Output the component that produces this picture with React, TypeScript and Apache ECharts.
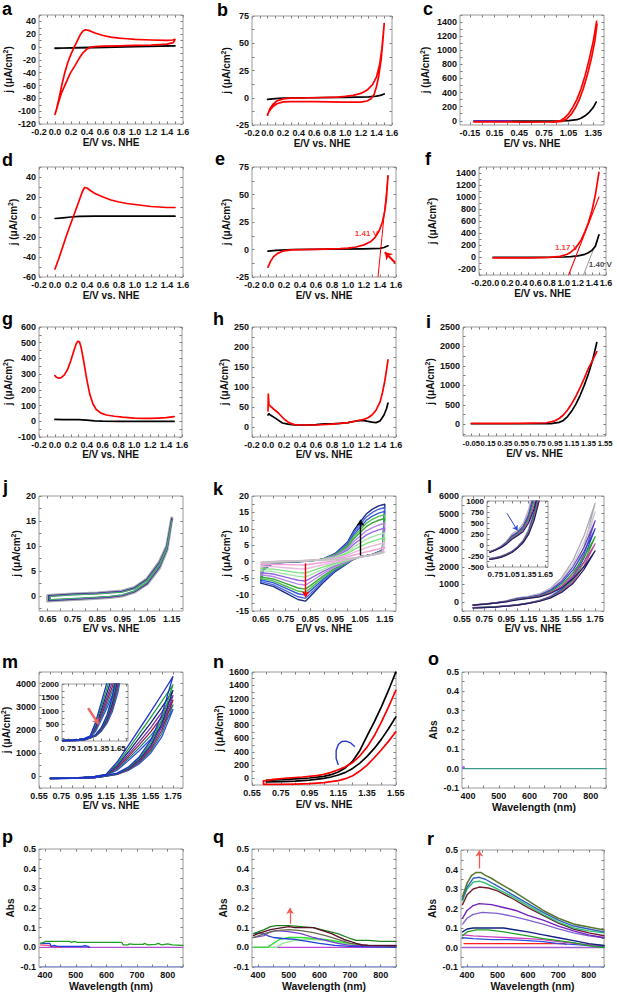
import React, { useEffect, useRef } from 'react';
import * as echarts from 'echarts';

const FONT = '"Liberation Sans", Arial, Helvetica, sans-serif';
const RED = '#ff0000';
const BLK = '#000000';
const EV = 'E/V vs. NHE';
const JN = 'j (μA/cm{s|2})';
const WL = 'Wavelength (nm)';

// ---------- tick label values ----------
const evTicks = [-0.2, 0, 0.2, 0.4, 0.6, 0.8, 1.0, 1.2, 1.4, 1.6];
const aYTicks = [-120, -100, -80, -60, -40, -20, 0, 20, 40];
const beYTicks = [-25, 0, 25, 50, 75];
const cXTicks = [-0.15, 0.15, 0.45, 0.75, 1.05, 1.35];
const cYTicks = [0, 200, 400, 600, 800, 1000, 1200, 1400];
const dYTicks = [-60, -40, -20, 0, 20, 40];
const fYTicks = [-200, 0, 200, 400, 600, 800, 1000, 1200, 1400];
const gYTicks = [-100, 0, 100, 200, 300, 400, 500, 600];
const hYTicks = [0, 50, 100, 150, 200, 250];
const iXTicks = [-0.05, 0.15, 0.35, 0.55, 0.75, 0.95, 1.15, 1.35, 1.55];
const iYTicks = [0, 500, 1000, 1500, 2000, 2500];
const jkXTicks = [0.65, 0.75, 0.85, 0.95, 1.05, 1.15];
const jYTicks = [0, 5, 10, 15, 20];
const kYTicks = [-15, -10, -5, 0, 5, 10, 15, 20];
const lmXTicks = [0.55, 0.75, 0.95, 1.15, 1.35, 1.55, 1.75];
const lYTicks = [0, 1000, 2000, 3000, 4000, 5000, 6000];
const insetXTicks = [0.75, 1.05, 1.35, 1.65];
const lInsetYTicks = [-500, -250, 0, 250, 500, 750, 1000];
const mYTicks = [0, 1000, 2000, 3000, 4000];
const mInsetYTicks = [0, 500, 1000, 1500, 2000];
const nXTicks = [0.55, 0.75, 0.95, 1.15, 1.35, 1.55];
const nYTicks = [0, 200, 400, 600, 800, 1000, 1200, 1400, 1600];
const wlTicks = [400, 500, 600, 700, 800];
const absTicks = [-0.1, 0, 0.1, 0.2, 0.3, 0.4, 0.5];

// ---------- data ----------
const aBlack = [[0, -2], [0.3, -1], [0.6, 0], [1.0, 1], [1.5, 2], [1.0, 0.5], [0.5, -0.8], [0, -1.6]];
const aRed = [[0, -105], [0.02, -96], [0.05, -80], [0.08, -62], [0.12, -41], [0.16, -24], [0.2, -11], [0.24, 0], [0.28, 10], [0.32, 20], [0.35, 25], [0.38, 27], [0.42, 26], [0.5, 22], [0.6, 18], [0.7, 15.5], [0.8, 14], [0.9, 13], [1.0, 12], [1.2, 11], [1.4, 10.5], [1.47, 11], [1.5, 12], [1.48, 7], [1.4, 4.5], [1.2, 3], [1.0, 2.5], [0.8, 2], [0.6, 1.5], [0.5, 0.8], [0.45, 0], [0.4, -3], [0.35, -9], [0.3, -18], [0.25, -29], [0.19, -41], [0.14, -55], [0.08, -72], [0.04, -88], [0.02, -97], [0, -105]];

const bBlack = [[0, -1.5], [0.1, -0.8], [0.2, -0.3], [0.5, 0], [1.0, 0.3], [1.3, 0.8], [1.4, 1.5], [1.45, 2.2], [1.5, 3.5]];
const bRed = [[0, -16], [0.03, -10], [0.07, -6], [0.12, -3], [0.2, -1], [0.3, -0.3], [0.6, 0], [0.9, 0.6], [1.0, 1.2], [1.1, 2.2], [1.2, 4], [1.28, 7], [1.35, 12], [1.4, 19], [1.44, 30], [1.47, 45], [1.5, 68], [1.48, 50], [1.46, 35], [1.43, 20], [1.4, 10], [1.37, 3], [1.33, -1], [1.28, -3], [1.2, -4], [1.0, -4], [0.6, -3.5], [0.3, -3.5], [0.2, -3.8], [0.12, -5.5], [0.07, -8], [0.03, -11.5], [0, -15]];

const cBlack = [[-0.1, -5], [0.6, -5], [0.95, -3], [1.05, 2], [1.15, 15], [1.2, 35], [1.25, 70], [1.3, 120], [1.35, 190], [1.385, 265]];
const cRed1 = [[-0.1, -15], [0.5, -18], [0.85, -15], [0.95, 0], [1.0, 40], [1.05, 100], [1.1, 190], [1.15, 300], [1.2, 450], [1.25, 640], [1.3, 870], [1.35, 1130], [1.39, 1410]];
const cRed2 = [[0.85, -18], [0.97, -8], [1.03, 30], [1.08, 90], [1.13, 180], [1.18, 300], [1.23, 460], [1.28, 660], [1.33, 900], [1.37, 1140], [1.395, 1370]];
const cPurple = [[-0.1, -3], [0.35, -3]];

const dBlack = [[0, -1.5], [0.1, -0.8], [0.2, 0], [0.3, 0.6], [0.5, 0.8], [1.0, 0.8], [1.5, 0.8]];
const dRed = [[0, -52], [0.05, -41], [0.1, -29], [0.15, -17], [0.2, -6], [0.25, 5], [0.3, 16], [0.34, 25], [0.37, 29.5], [0.4, 29], [0.45, 26], [0.5, 23.5], [0.6, 20], [0.7, 17], [0.8, 15], [0.9, 13.5], [1.0, 12.5], [1.1, 11.5], [1.2, 10.5], [1.3, 10], [1.4, 9.5], [1.5, 9.5]];

const eBlack = [[0, -1.5], [0.1, -0.8], [0.3, 0], [0.8, 0.3], [1.2, 0.6], [1.4, 1], [1.45, 1.8], [1.5, 3.5]];
const eRed = [[0, -16], [0.03, -11], [0.07, -6.5], [0.12, -3.5], [0.2, -1.2], [0.3, -0.3], [0.6, 0.2], [0.9, 0.8], [1.0, 1.3], [1.1, 2.3], [1.2, 4.2], [1.28, 7], [1.34, 11], [1.39, 17], [1.43, 25], [1.46, 35], [1.48, 46], [1.5, 67]];
const eTangent = [[1.375, -25], [1.5, 67]];

const fBlack = [[0, -5], [0.6, -5], [1.0, 0], [1.1, 5], [1.2, 20], [1.3, 45], [1.35, 70], [1.4, 110], [1.45, 180], [1.5, 370]];
const fRed = [[0, -15], [0.5, -15], [0.8, -5], [0.95, 10], [1.05, 45], [1.1, 80], [1.15, 130], [1.2, 200], [1.25, 290], [1.3, 420], [1.35, 570], [1.4, 770], [1.45, 1040], [1.5, 1410]];
const fRedTangent = [[1.07, -300], [1.5, 1000]];
const fGrayTangent = [[1.28, -300], [1.5, 360]];

const gBlack = [[0, 12], [0.1, 11], [0.3, 10], [0.4, 7], [0.5, 3], [0.6, 1], [0.8, 0], [1.5, 0]];
const gRed = [[0, 290], [0.02, 280], [0.05, 274], [0.08, 278], [0.12, 295], [0.16, 330], [0.2, 385], [0.24, 450], [0.27, 495], [0.29, 510], [0.31, 505], [0.33, 470], [0.36, 390], [0.4, 270], [0.44, 170], [0.48, 110], [0.52, 75], [0.58, 52], [0.65, 40], [0.75, 32], [0.85, 26], [1.0, 20], [1.1, 18], [1.2, 18], [1.3, 20], [1.4, 23], [1.5, 30]];

const hBlack = [[0, 30], [0.01, 33], [0.03, 30], [0.1, 21], [0.18, 10], [0.25, 7], [0.33, 5], [0.5, 5], [0.6, 6], [0.7, 8], [0.8, 8], [0.9, 9], [1.0, 11], [1.1, 15], [1.15, 16], [1.2, 16], [1.25, 14], [1.3, 12], [1.35, 11], [1.4, 15], [1.45, 30], [1.48, 45], [1.5, 60]];
const hRed = [[0, 40], [0.004, 82], [0.012, 55], [0.03, 52], [0.07, 45], [0.13, 35], [0.2, 20], [0.26, 11], [0.33, 6], [0.4, 5], [0.6, 5], [0.8, 7], [1.0, 11], [1.1, 15], [1.2, 19], [1.25, 23], [1.3, 30], [1.35, 42], [1.4, 62], [1.43, 85], [1.46, 115], [1.48, 140], [1.5, 168]];

const iBlack = [[-0.05, 15], [0.5, 15], [0.9, 20], [1.0, 50], [1.05, 100], [1.1, 200], [1.15, 340], [1.2, 520], [1.25, 740], [1.3, 1000], [1.35, 1300], [1.4, 1650], [1.45, 2100]];
const iRed = [[-0.05, 25], [0.5, 25], [0.85, 40], [0.95, 90], [1.0, 150], [1.05, 240], [1.1, 370], [1.15, 530], [1.2, 720], [1.25, 940], [1.3, 1180], [1.35, 1440], [1.4, 1650], [1.45, 1870]];

const jGray = [[0.65, -1.0], [0.7, -0.85], [0.8, -0.6], [0.9, -0.3], [0.95, 0], [1.0, 0.8], [1.05, 2.4], [1.1, 5.6], [1.13, 9.2], [1.15, 15.6], [1.13, 10], [1.1, 6.8], [1.05, 3.4], [1.0, 1.7], [0.95, 1.0], [0.85, 0.6], [0.75, 0.4], [0.65, 0.1], [0.65, -1.0]];
const jNavy = [[0.655, -0.9], [0.8, -0.5], [0.9, -0.2], [0.95, 0.1], [1.0, 0.9], [1.05, 2.5], [1.1, 5.8], [1.13, 9.4], [1.15, 15.4], [1.13, 9.9], [1.1, 6.6], [1.05, 3.3], [1.0, 1.6], [0.95, 0.9], [0.85, 0.55], [0.75, 0.35], [0.655, 0.05], [0.655, -0.9]];
const jPurple = [[0.66, -0.8], [0.7, -0.7], [0.8, -0.45], [0.9, -0.15], [0.95, 0.15], [1.0, 0.95], [1.05, 2.6], [1.1, 5.9], [1.13, 9.5], [1.15, 15.2], [1.13, 9.8], [1.1, 6.5], [1.05, 3.2], [1.0, 1.5], [0.95, 0.85], [0.85, 0.5], [0.75, 0.3], [0.66, 0.0], [0.66, -0.8]];
const jGreen = [[0.66, -0.7], [0.8, -0.35], [0.9, -0.05], [0.95, 0.25], [1.0, 1.05], [1.05, 2.75], [1.1, 6.1], [1.13, 9.6], [1.15, 15], [1.13, 9.7], [1.1, 6.3], [1.05, 3.1], [1.0, 1.4], [0.95, 0.75], [0.85, 0.4], [0.75, 0.2], [0.66, -0.1], [0.66, -0.7]];

const kFwdX = [0.65, 0.66, 0.7, 0.75, 0.8, 0.85, 0.9, 0.95, 1.0, 1.025, 1.05, 1.075, 1.1, 1.125, 1.15];
const kRevX = [1.15, 1.14, 1.1, 1.05, 1.02, 1.0, 0.95, 0.9, 0.85, 0.83, 0.8, 0.75, 0.7, 0.65];
const k00Fwd = [-0.2, 0, 0.1, 0.2, 0.3, 0.45, 0.6, 0.8, 1.0, 1.2, 1.4, 1.7, 2.0, 2.4, 3.0];
const k00Rev = [3.0, 2.6, 2.0, 1.4, 1.0, 0.9, 0.6, 0.45, 0.3, 0.25, 0.2, 0.1, 0.0, -0.2];
const k10Fwd = [-0.83, -0.25, 0.04, 0.16, 0.27, 0.43, 0.62, 0.97, 1.5, 2.03, 2.46, 2.98, 3.4, 3.86, 4.45];
const k10Rev = [4.45, 2.69, 2.02, 1.41, 0.96, 0.76, 0.24, -0.25, -0.78, -0.98, -0.97, -0.86, -0.75, -0.83];
const k20Fwd = [-1.46, -0.5, -0.02, 0.12, 0.24, 0.4, 0.64, 1.14, 2.0, 2.86, 3.52, 4.26, 4.8, 5.32, 5.9];
const k20Rev = [5.9, 2.78, 2.04, 1.42, 0.92, 0.62, -0.12, -0.94, -1.86, -2.2, -2.14, -1.82, -1.5, -1.46];
const k30Fwd = [-2.09, -0.75, -0.08, 0.08, 0.21, 0.38, 0.66, 1.31, 2.5, 3.69, 4.58, 5.54, 6.2, 6.78, 7.35];
const k30Rev = [7.35, 2.87, 2.06, 1.43, 0.88, 0.48, -0.48, -1.64, -2.94, -3.43, -3.31, -2.78, -2.25, -2.09];
const k40Fwd = [-2.72, -1.0, -0.14, 0.04, 0.18, 0.35, 0.68, 1.48, 3.0, 4.52, 5.64, 6.82, 7.6, 8.24, 8.8];
const k40Rev = [8.8, 2.96, 2.08, 1.44, 0.84, 0.34, -0.84, -2.33, -4.02, -4.65, -4.48, -3.74, -3.0, -2.72];
const k50Fwd = [-3.35, -1.25, -0.2, 0.0, 0.15, 0.33, 0.7, 1.65, 3.5, 5.35, 6.7, 8.1, 9.0, 9.7, 10.25];
const k50Rev = [10.25, 3.05, 2.1, 1.45, 0.8, 0.2, -1.2, -3.03, -5.1, -5.88, -5.65, -4.7, -3.75, -3.35];
const k60Fwd = [-3.98, -1.5, -0.26, -0.04, 0.12, 0.3, 0.72, 1.82, 4.0, 6.18, 7.76, 9.38, 10.4, 11.16, 11.7];
const k60Rev = [11.7, 3.14, 2.12, 1.46, 0.76, 0.06, -1.56, -3.72, -6.18, -7.1, -6.82, -5.66, -4.5, -3.98];
const k70Fwd = [-4.61, -1.75, -0.32, -0.08, 0.09, 0.28, 0.74, 1.99, 4.5, 7.01, 8.82, 10.66, 11.8, 12.62, 13.15];
const k70Rev = [13.15, 3.23, 2.14, 1.47, 0.72, -0.08, -1.92, -4.42, -7.26, -8.33, -7.99, -6.62, -5.25, -4.61];
const k78Fwd = [-5.11, -1.95, -0.37, -0.11, 0.07, 0.26, 0.76, 2.13, 4.9, 7.67, 9.67, 11.68, 12.92, 13.79, 14.31];
const k78Rev = [14.31, 3.3, 2.16, 1.48, 0.69, -0.19, -2.21, -4.97, -8.12, -9.3, -8.93, -7.39, -5.85, -5.11];
const k85Fwd = [-5.56, -2.13, -0.41, -0.14, 0.05, 0.24, 0.77, 2.25, 5.25, 8.26, 10.41, 12.58, 13.9, 14.81, 15.33];
const k85Rev = [15.33, 3.37, 2.17, 1.49, 0.66, -0.29, -2.46, -5.46, -8.88, -10.16, -9.75, -8.06, -6.38, -5.56];
const k93Fwd = [-6.06, -2.33, -0.46, -0.17, 0.02, 0.22, 0.79, 2.38, 5.65, 8.92, 11.26, 13.6, 15.02, 15.98, 16.49];
const k93Rev = [16.49, 3.44, 2.19, 1.49, 0.63, -0.4, -2.75, -6.02, -9.74, -11.14, -10.68, -8.83, -6.98, -6.06];
const k100Fwd = [-6.5, -2.5, -0.5, -0.2, 0.0, 0.2, 0.8, 2.5, 6.0, 9.5, 12.0, 14.5, 16.0, 17.0, 17.5];
const k100Rev = [17.5, 3.5, 2.2, 1.5, 0.6, -0.5, -3.0, -6.5, -10.5, -12.0, -11.5, -9.5, -7.5, -6.5];

const lmFwdX = [0.65, 0.75, 0.85, 0.95, 1.05, 1.15, 1.25, 1.35, 1.45, 1.55, 1.65, 1.75];
const lmRevX = [1.75, 1.65, 1.55, 1.45, 1.35, 1.25, 1.15, 1.05, 0.95, 0.85, 0.75, 0.65];
const l1Fwd = [-150, -100, -30, 80, 250, 330, 480, 800, 1400, 2350, 3750, 5600];
const l1Rev = [5600, 3150, 1650, 820, 360, 110, -40, -140, -200, -250, -280, -300];
const l2Fwd = [-150, -100, -35, 70, 230, 310, 450, 750, 1300, 2150, 3400, 5100];
const l2Rev = [5100, 2900, 1550, 780, 340, 100, -45, -145, -205, -255, -285, -305];
const l3Fwd = [-155, -105, -40, 60, 210, 290, 420, 700, 1200, 2000, 3100, 4600];
const l3Rev = [4600, 2700, 1450, 740, 320, 90, -50, -150, -210, -260, -290, -310];
const l4Fwd = [-160, -110, -45, 50, 190, 270, 390, 650, 1100, 1820, 2850, 4150];
const l4Rev = [4150, 2500, 1350, 700, 300, 80, -55, -155, -215, -265, -295, -315];
const l5Fwd = [-160, -110, -50, 40, 170, 250, 360, 600, 1000, 1650, 2550, 3700];
const l5Rev = [3700, 2250, 1250, 650, 280, 70, -60, -160, -220, -270, -300, -320];
const l6Fwd = [-165, -115, -55, 30, 150, 230, 330, 550, 900, 1480, 2280, 3300];
const l6Rev = [3300, 2050, 1150, 600, 260, 60, -65, -165, -225, -275, -305, -325];
const l7Fwd = [-170, -120, -60, 20, 130, 210, 300, 500, 820, 1320, 2000, 2900];
const l7Rev = [2900, 1850, 1050, 560, 240, 50, -70, -170, -230, -280, -310, -330];

const m1Fwd = [-80, -70, -60, -40, 0, 90, 620, 1330, 2050, 2780, 3530, 4300];
const m1Rev = [4300, 2650, 1550, 850, 400, 140, 30, -40, -70, -80, -85, -90];
const m2Fwd = [-80, -70, -60, -40, -5, 75, 540, 1180, 1850, 2530, 3230, 3950];
const m2Rev = [3950, 2450, 1430, 790, 370, 130, 26, -45, -70, -80, -85, -90];
const m3Fwd = [-80, -70, -60, -42, -10, 65, 470, 1050, 1670, 2300, 2980, 3700];
const m3Rev = [3700, 2280, 1330, 740, 345, 120, 22, -48, -72, -82, -87, -92];
const m4Fwd = [-82, -72, -62, -44, -14, 55, 410, 940, 1500, 2090, 2760, 3480];
const m4Rev = [3480, 2130, 1250, 690, 320, 110, 18, -50, -74, -84, -88, -93];
const m5Fwd = [-82, -72, -62, -45, -18, 48, 360, 850, 1370, 1920, 2560, 3280];
const m5Rev = [3280, 1990, 1160, 640, 300, 100, 15, -52, -75, -85, -89, -94];
const m6Fwd = [-84, -74, -64, -46, -22, 40, 310, 760, 1240, 1760, 2360, 3080];
const m6Rev = [3080, 1850, 1080, 600, 280, 92, 12, -54, -76, -86, -90, -95];
const m7Fwd = [-85, -75, -65, -48, -25, 32, 270, 680, 1120, 1600, 2160, 2880];
const m7Rev = [2880, 1700, 1000, 550, 260, 85, 10, -56, -78, -87, -91, -96];

const nBlackUp = [[0.65, -30], [0.75, -18], [0.85, -8], [0.95, 5], [1.05, 30], [1.1, 55], [1.15, 95], [1.2, 160], [1.25, 260], [1.3, 420], [1.35, 640], [1.4, 850], [1.45, 1080], [1.5, 1330], [1.55, 1600]];
const nBlackLow = [[0.65, -30], [0.65, -55], [0.75, -50], [0.85, -42], [0.95, -28], [1.05, 0], [1.1, 20], [1.15, 50], [1.2, 90], [1.25, 150], [1.3, 230], [1.35, 330], [1.4, 450], [1.45, 590], [1.5, 750], [1.55, 925]];
const nRedUp = [[0.63, -40], [0.7, -15], [0.8, 5], [0.9, 20], [1.0, 40], [1.05, 60], [1.1, 90], [1.15, 130], [1.2, 175], [1.25, 240], [1.3, 340], [1.35, 470], [1.4, 640], [1.45, 850], [1.5, 1080], [1.55, 1325]];
const nRedLow = [[0.63, -40], [0.63, -90], [0.75, -92], [0.85, -88], [0.95, -80], [1.05, -65], [1.15, -35], [1.2, -5], [1.25, 40], [1.3, 110], [1.35, 200], [1.4, 310], [1.45, 430], [1.5, 560], [1.55, 700]];
const nHook = [[1.15, 200], [1.135, 300], [1.135, 420], [1.15, 510], [1.175, 555], [1.205, 560], [1.235, 535], [1.265, 475]];

const oTeal = [[385, 0], [850, 0]];
const oDot = [[385, 0.006]];

const pGreen = [[385, 0.02], [395, 0.025], [400, 0.03], [480, 0.03], [485, 0.025], [495, 0.03], [505, 0.025], [650, 0.025], [655, 0.012], [670, 0.012], [675, 0.018], [690, 0.015], [720, 0.015], [725, 0.02], [735, 0.012], [760, 0.015], [770, 0.02], [780, 0.012], [800, 0.018], [815, 0.012], [850, 0.01]];
const pBlue = [[385, 0.02], [415, 0.02], [420, 0.005], [430, 0.01], [440, 0.005], [520, 0.005], [530, 0.008], [540, 0.005], [545, 0.0]];
const pPurple = [[385, 0], [850, 0]];
const pPink = [[385, 0.012], [410, 0.01], [420, 0.005], [450, 0.003]];
const uvBase = [[385, -0.1], [850, -0.1]];

const qMaroon = [[385, 0.06], [400, 0.07], [420, 0.08], [440, 0.09], [460, 0.095], [480, 0.1], [500, 0.105], [520, 0.1], [560, 0.1], [580, 0.1], [600, 0.09], [620, 0.08], [640, 0.07], [660, 0.055], [680, 0.04], [700, 0.03], [720, 0.02], [740, 0.012], [760, 0.01], [850, 0.008]];
const qGreen = [[385, 0.07], [420, 0.09], [440, 0.105], [460, 0.11], [500, 0.11], [540, 0.105], [580, 0.1], [620, 0.085], [660, 0.07], [700, 0.045], [720, 0.035], [760, 0.035], [800, 0.03], [850, 0.03]];
const qOlive = [[385, 0.05], [420, 0.07], [460, 0.085], [500, 0.09], [540, 0.085], [580, 0.075], [620, 0.06], [660, 0.04], [700, 0.02], [760, 0.01], [850, 0.01]];
const qBlue = [[385, 0.07], [410, 0.075], [430, 0.06], [450, 0.05], [480, 0.045], [520, 0.04], [560, 0.03], [600, 0.02], [650, 0.01], [700, 0.005], [850, 0.0]];
const qPurple = [[385, 0.05], [420, 0.06], [440, 0.08], [460, 0.085], [500, 0.08], [540, 0.07], [580, 0.05], [620, 0.035], [660, 0.02], [700, 0.01], [850, 0.005]];
const qLime = [[385, 0], [430, 0], [450, 0.02], [470, 0.04], [500, 0.05], [540, 0.05], [580, 0.045], [620, 0.04], [660, 0.03], [700, 0.02], [740, 0.01], [850, 0.005]];
const qPale = [[385, 0], [460, 0], [480, 0.02], [520, 0.035], [560, 0.04], [620, 0.035], [680, 0.02], [720, 0.01], [850, 0.0]];
const qMagenta = [[385, 0], [850, 0]];

const rOlive = [[385, 0.26], [400, 0.33], [415, 0.37], [430, 0.385], [445, 0.385], [460, 0.37], [480, 0.355], [500, 0.335], [550, 0.29], [600, 0.24], [650, 0.19], [700, 0.15], [750, 0.12], [800, 0.105], [850, 0.09]];
const rSteel = [[385, 0.25], [400, 0.31], [420, 0.355], [440, 0.36], [460, 0.35], [500, 0.315], [550, 0.27], [600, 0.225], [650, 0.18], [700, 0.14], [750, 0.11], [800, 0.095], [850, 0.08]];
const rTeal = [[385, 0.24], [400, 0.3], [420, 0.335], [440, 0.34], [460, 0.33], [500, 0.3], [550, 0.26], [600, 0.215], [650, 0.17], [700, 0.13], [750, 0.1], [800, 0.085], [850, 0.075]];
const rMaroon = [[385, 0.22], [400, 0.27], [420, 0.3], [440, 0.31], [470, 0.305], [500, 0.29], [550, 0.25], [600, 0.205], [650, 0.165], [700, 0.125], [750, 0.095], [800, 0.075], [850, 0.06]];
const rPurple = [[385, 0.15], [400, 0.19], [420, 0.215], [440, 0.225], [480, 0.22], [520, 0.205], [560, 0.19], [600, 0.165], [650, 0.14], [700, 0.11], [750, 0.085], [800, 0.065], [850, 0.05]];
const rViolet = [[385, 0.12], [400, 0.15], [420, 0.17], [450, 0.18], [500, 0.175], [550, 0.16], [600, 0.14], [650, 0.12], [700, 0.095], [750, 0.075], [800, 0.06], [850, 0.05]];
const rNavy = [[385, 0.08], [400, 0.095], [420, 0.1], [460, 0.1], [520, 0.1], [560, 0.09], [600, 0.08], [650, 0.065], [700, 0.05], [750, 0.035], [800, 0.02], [850, 0.01]];
const rGreen = [[385, 0.06], [400, 0.08], [430, 0.09], [470, 0.09], [520, 0.08], [560, 0.07], [600, 0.06], [650, 0.045], [700, 0.035], [750, 0.025], [800, 0.01], [850, 0.0]];
const rBlue = [[385, 0.05], [420, 0.045], [480, 0.04], [540, 0.04], [600, 0.035], [650, 0.03], [700, 0.02], [760, 0.015], [800, 0.01], [850, 0.005]];
const rMagenta = [[385, 0.065], [420, 0.06], [480, 0.055], [540, 0.05], [600, 0.045], [650, 0.04], [700, 0.03], [760, 0.02], [800, 0.015], [850, 0.01]];
const rRed = [[390, 0.02], [450, 0.02], [550, 0.02], [650, 0.02], [720, 0.02], [725, 0.015]];
const rLav = [[385, 0], [850, 0]];

// ---------- helpers ----------
const zip = (xs: number[], ys: number[]) => xs.map((x, i) => [x, ys[i]]);
const loop = (fx: number[], fy: number[], rx: number[], ry: number[]) => [...zip(fx, fy), ...zip(rx, ry)];

type AxisSpec = { min: number; max: number; ticks: number[]; dec: number; size?: number };
type LineSpec = { data: number[][]; color: string; width?: number; dash?: string };
type ArrowSpec = { coords: number[][]; color: string; width?: number; size?: number };
type NoteSpec = { at: number[]; text: string; color: string };
type PanelSpec = {
  rect: number[];
  x: AxisSpec;
  y: AxisSpec;
  xName?: string;
  yName?: string;
  xGap?: number;
  yGap?: number;
  xNameSize?: number;
  lines: LineSpec[];
  arrows?: ArrowSpec[];
  notes?: NoteSpec[];
  dots?: { data: number[][]; color: string }[];
  inset?: boolean;
  labelSize?: number;
};

function allTicks(a: AxisSpec): number[] {
  const h = (a.ticks[1] - a.ticks[0]) / 2;
  const out: number[] = [];
  let k = Math.ceil((a.min - a.ticks[0]) / h - 1e-6);
  for (let n = 0; n < 200; n++, k++) {
    const v = a.ticks[0] + k * h;
    if (v > a.max + 1e-9) break;
    out.push(+v.toFixed(6));
  }
  return out;
}
// label positions: the tick values, bracketed by blank labels at the axis ends
// (so that ECharts' min/max overlap rule never drops a real tick label)
function labelValues(a: AxisSpec): number[] {
  const vals = [...a.ticks];
  if (Math.abs(vals[0] - a.min) > 1e-9) vals.unshift(a.min);
  if (Math.abs(vals[vals.length - 1] - a.max) > 1e-9) vals.push(a.max);
  return vals;
}
const isTick = (a: AxisSpec, v: number) => a.ticks.some((t) => Math.abs(t - v) < 1e-7);

const evX: AxisSpec = { min: -0.2, max: 1.6, ticks: evTicks, dec: 1 };
const wlX: AxisSpec = { min: 380, max: 850, ticks: wlTicks, dec: 0 };
const absY: AxisSpec = { min: -0.1, max: 0.5, ticks: absTicks, dec: 1 };
const jkX: AxisSpec = { min: 0.615, max: 1.195, ticks: jkXTicks, dec: 2 };

const kCycles = [
  { f: k100Fwd, r: k100Rev, c: '#1e2a80' },
  { f: k93Fwd, r: k93Rev, c: '#4a68e0' },
  { f: k85Fwd, r: k85Rev, c: '#3858d8' },
  { f: k78Fwd, r: k78Rev, c: '#50c050' },
  { f: k70Fwd, r: k70Rev, c: '#38a838' },
  { f: k60Fwd, r: k60Rev, c: '#b888e8' },
  { f: k50Fwd, r: k50Rev, c: '#9868e0' },
  { f: k40Fwd, r: k40Rev, c: '#a8e8a8' },
  { f: k30Fwd, r: k30Rev, c: '#80e080' },
  { f: k20Fwd, r: k20Rev, c: '#e8b8e0' },
  { f: k10Fwd, r: k10Rev, c: '#f0a0dc' },
  { f: k00Fwd, r: k00Rev, c: '#c4c4c4' },
];
const lCycles = [
  { f: l1Fwd, r: l1Rev, c: '#a8a8b0' },
  { f: l2Fwd, r: l2Rev, c: '#c8c8d0' },
  { f: l3Fwd, r: l3Rev, c: '#7040c0' },
  { f: l4Fwd, r: l4Rev, c: '#2848c8' },
  { f: l5Fwd, r: l5Rev, c: '#30a030' },
  { f: l6Fwd, r: l6Rev, c: '#c040a0' },
  { f: l7Fwd, r: l7Rev, c: '#202060' },
];
const mCycles = [
  { f: m7Fwd, r: m7Rev, c: '#3050e0' },
  { f: m6Fwd, r: m6Rev, c: '#208080' },
  { f: m5Fwd, r: m5Rev, c: '#902040' },
  { f: m4Fwd, r: m4Rev, c: '#7030b0' },
  { f: m3Fwd, r: m3Rev, c: '#182878' },
  { f: m2Fwd, r: m2Rev, c: '#20a040' },
  { f: m1Fwd, r: m1Rev, c: '#2030d0' },
];
const kLines: LineSpec[] = kCycles.map((k) => ({ data: loop(kFwdX, k.f, kRevX, k.r), color: k.c, width: 1.4 }));
const lLines: LineSpec[] = lCycles.map((k) => ({ data: loop(lmFwdX, k.f, lmRevX, k.r), color: k.c, width: 1.2 }));
const mLines: LineSpec[] = mCycles.map((k) => ({ data: loop(lmFwdX, k.f, lmRevX, k.r), color: k.c, width: 1.3 }));

const panels: PanelSpec[] = [
  // a
  { rect: [39, 15, 183, 124], x: evX, y: { min: -120, max: 50, ticks: aYTicks, dec: 0 }, xName: EV, yName: JN, xGap: 13, yGap: 15,
    lines: [{ data: aBlack, color: BLK }, { data: aRed, color: RED }] },
  // b
  { rect: [252, 16, 392, 125], x: evX, y: { min: -25, max: 75, ticks: beYTicks, dec: 0 }, xName: EV, yName: JN, xGap: 13, yGap: 13,
    lines: [{ data: bBlack, color: BLK }, { data: bRed, color: RED }] },
  // c
  { rect: [460, 15, 604, 125], x: { min: -0.27, max: 1.48, ticks: cXTicks, dec: 2 }, y: { min: -60, max: 1500, ticks: cYTicks, dec: 0 }, xName: EV, yName: JN, xGap: 13, yGap: 29,
    lines: [{ data: cBlack, color: BLK }, { data: cPurple, color: '#6a2ad0' }, { data: cRed2, color: RED }, { data: cRed1, color: RED }] },
  // d
  { rect: [39, 167, 183, 277], x: evX, y: { min: -60, max: 50, ticks: dYTicks, dec: 0 }, xName: EV, yName: JN, xGap: 13, yGap: 15,
    lines: [{ data: dBlack, color: BLK }, { data: dRed, color: RED }] },
  // e
  { rect: [252, 167, 396, 277], x: evX, y: { min: -25, max: 75, ticks: beYTicks, dec: 0 }, xName: EV, yName: JN, xGap: 13, yGap: 13,
    lines: [{ data: eBlack, color: BLK }, { data: eRed, color: RED }, { data: eTangent, color: RED, width: 1 }],
    arrows: [{ coords: [[1.59, -12], [1.46, -2.5]], color: RED, width: 2, size: 7 }],
    notes: [{ at: [1.23, 15], text: '1.41 V', color: RED }] },
  // f
  { rect: [479, 167, 606, 275], x: evX, y: { min: -300, max: 1500, ticks: fYTicks, dec: 0 }, xName: EV, yName: JN, xGap: 13, yGap: 41,
    lines: [{ data: fGrayTangent, color: '#9a9a9a', width: 1 }, { data: fBlack, color: BLK }, { data: fRedTangent, color: RED, width: 1.1 }, { data: fRed, color: RED }],
    notes: [{ at: [1.04, 160], text: '1.17 V', color: RED }, { at: [1.52, -130], text: '1.40 V', color: '#111' }] },
  // g
  { rect: [39, 327, 182, 437], x: evX, y: { min: -100, max: 600, ticks: gYTicks, dec: 0 }, xName: EV, yName: JN, xGap: 11, yGap: 15,
    lines: [{ data: gBlack, color: BLK }, { data: gRed, color: RED }] },
  // h
  { rect: [252, 327, 396, 437], x: evX, y: { min: -25, max: 250, ticks: hYTicks, dec: 0 }, xName: EV, yName: JN, xGap: 11, yGap: 16,
    lines: [{ data: hBlack, color: BLK }, { data: hRed, color: RED }] },
  // i
  { rect: [463, 327, 606, 436], x: { min: -0.15, max: 1.56, ticks: iXTicks, dec: 2, size: 7.7 }, y: { min: -300, max: 2500, ticks: iYTicks, dec: 0 }, xName: EV, yName: JN, xGap: 12, yGap: 24,
    lines: [{ data: iBlack, color: BLK }, { data: iRed, color: RED }] },
  // j
  { rect: [39, 496, 183, 611], x: jkX, y: { min: -3, max: 20, ticks: jYTicks, dec: 0 }, xName: EV, yName: JN, xGap: 12, yGap: 13,
    lines: [{ data: jGray, color: '#a8a8b4', width: 3.2 }, { data: jNavy, color: '#28307a', width: 1.6 }, { data: jPurple, color: '#8050d0', width: 1.2 }, { data: jGreen, color: '#40b060', width: 1.1 }] },
  // k
  { rect: [252, 496, 396, 611], x: jkX, y: { min: -15, max: 20, ticks: kYTicks, dec: 0 }, xName: EV, yName: JN, xGap: 12, yGap: 13,
    lines: kLines,
    arrows: [{ coords: [[0.831, -0.5], [0.831, -10.8]], color: RED, width: 1.4, size: 6 }, { coords: [[1.052, 1.9], [1.052, 12.8]], color: BLK, width: 1.4, size: 6 }] },
  // l
  { rect: [462, 496, 604, 611], x: { min: 0.55, max: 1.83, ticks: lmXTicks, dec: 2 }, y: { min: -500, max: 6000, ticks: lYTicks, dec: 0 }, xName: EV, yName: JN, xGap: 12, yGap: 24,
    lines: lLines },
  // l inset
  { rect: [487, 501, 548, 567], x: { min: 0.6, max: 1.7, ticks: insetXTicks, dec: 2 }, y: { min: -500, max: 1000, ticks: lInsetYTicks, dec: 0 }, inset: true, labelSize: 8,
    lines: lLines, arrows: [{ coords: [[0.96, 720], [1.15, 330]], color: '#2848d0', width: 1, size: 5 }] },
  // m
  { rect: [39, 672, 183, 788], x: { min: 0.55, max: 1.84, ticks: lmXTicks, dec: 2 }, y: { min: -500, max: 4500, ticks: mYTicks, dec: 0 }, xName: EV, yName: JN, xGap: 12, yGap: 23,
    lines: mLines },
  // m inset
  { rect: [62, 684, 128, 741], x: { min: 0.64, max: 1.83, ticks: insetXTicks, dec: 2 }, y: { min: -100, max: 2000, ticks: mInsetYTicks, dec: 0 }, inset: true, labelSize: 8,
    lines: mLines, arrows: [{ coords: [[1.11, 1110], [1.3, 520]], color: '#f06464', width: 2.5, size: 6 }] },
  // n
  { rect: [252, 672, 396, 785], x: { min: 0.55, max: 1.551, ticks: nXTicks, dec: 2 }, y: { min: -100, max: 1600, ticks: nYTicks, dec: 0 }, xName: EV, yName: JN, xGap: 14, yGap: 23,
    lines: [{ data: nBlackLow, color: BLK }, { data: nBlackUp, color: BLK }, { data: nRedLow, color: RED }, { data: nRedUp, color: RED }],
    arrows: [{ coords: nHook, color: '#2838d0', width: 1.4, size: 6 }] },
  // o
  { rect: [462, 672, 606, 788], x: wlX, y: absY, xName: WL, yName: 'Abs', xGap: 13, yGap: 18, xNameSize: 10.5,
    lines: [{ data: oTeal, color: '#3a9a88', width: 1.3 }], dots: [{ data: oDot, color: '#9040ff' }] },
  // p
  { rect: [39, 849, 183, 967], x: wlX, y: absY, xName: WL, yName: 'Abs', xGap: 13, yGap: 20, xNameSize: 10.5,
    lines: [{ data: uvBase, color: '#5a70e8', width: 1.2 }, { data: pPurple, color: '#b050d0', width: 1.3 }, { data: pPink, color: '#ff4080', width: 1.3 }, { data: pBlue, color: '#2040e0', width: 1.3 }, { data: pGreen, color: '#20a020', width: 1.3 }] },
  // q
  { rect: [252, 849, 396, 967], x: wlX, y: absY, xName: WL, yName: 'Abs', xGap: 13, yGap: 14, xNameSize: 10.5,
    lines: [{ data: uvBase, color: '#5a70e8', width: 1.2 }, { data: qMagenta, color: '#c040e0', width: 1.3 }, { data: qPale, color: '#90e890', width: 1.3 }, { data: qLime, color: '#30e030', width: 1.3 }, { data: qBlue, color: '#2040d0', width: 1.3 }, { data: qPurple, color: '#7840d0', width: 1.3 }, { data: qOlive, color: '#6a6a50', width: 1.3 }, { data: qGreen, color: '#208020', width: 1.3 }, { data: qMaroon, color: '#5a1028', width: 1.4 }],
    arrows: [{ coords: [[504, 0.12], [504, 0.2]], color: '#f05a50', width: 1.3, size: 6 }] },
  // r
  { rect: [461, 850, 604, 967], x: wlX, y: absY, xName: WL, yName: 'Abs', xGap: 13, yGap: 23, xNameSize: 10.5,
    lines: [{ data: uvBase, color: '#5a70e8', width: 1.2 }, { data: rLav, color: '#a060d0', width: 1.3 }, { data: rRed, color: '#ff2020', width: 1.3 }, { data: rBlue, color: '#3050e0', width: 1.3 }, { data: rMagenta, color: '#d040c0', width: 1.3 }, { data: rGreen, color: '#20a020', width: 1.3 }, { data: rNavy, color: '#102080', width: 1.4 }, { data: rViolet, color: '#8060d0', width: 1.3 }, { data: rPurple, color: '#7020c0', width: 1.4 }, { data: rMaroon, color: '#702030', width: 1.4 }, { data: rTeal, color: '#30c070', width: 1.4 }, { data: rSteel, color: '#3060c0', width: 1.4 }, { data: rOlive, color: '#587830', width: 1.6 }],
    arrows: [{ coords: [[440, 0.405], [440, 0.497]], color: '#f05a50', width: 1.3, size: 6 }] },
];

const letters = ['a', 'b', 'c', 'd', 'e', 'f', 'g', 'h', 'i', 'j', 'k', 'l', 'm', 'n', 'o', 'p', 'q', 'r'];
const letterPos = [[2, 15.5], [217, 16.5], [423, 15.5], [2, 166], [215, 165], [425, 165], [2, 325], [213, 325], [426, 328], [3, 493], [213, 495], [427, 493], [2, 668], [213, 668], [428, 665], [2, 843], [213, 843], [427, 845]];

function buildOption() {
  const grid: any[] = [];
  const xAxis: any[] = [];
  const yAxis: any[] = [];
  const series: any[] = [];
  panels.forEach((p, gi) => {
    const [l, t, r, b] = p.rect;
    const inset = !!p.inset;
    grid.push({
      left: l, top: t, width: r - l, height: b - t, show: true, containLabel: false, outerBoundsMode: 'none',
      borderColor: '#9a9a9a', borderWidth: 1, backgroundColor: inset ? '#ffffff' : 'transparent', z: inset ? 10 : 2,
    });
    const az = inset ? 11 : 0;
    const ls = p.labelSize ?? 9;
    const lab = { color: '#111', fontWeight: 'bold', fontFamily: FONT };
    const tick = (vals: number[]) => ({ show: true, inside: true, length: 2.5, customValues: vals, lineStyle: { color: '#7a7a7a', width: 1 } });
    const base = { type: 'value', gridIndex: gi, splitLine: { show: false }, axisLine: { show: false, onZero: false }, z: az, silent: true };
    const xt = allTicks(p.x);
    const yt = allTicks(p.y);
    const fmtX = (v: number) => (isTick(p.x, v) ? v.toFixed(p.x.dec) : '');
    const fmtY = (v: number) => (isTick(p.y, v) ? v.toFixed(p.y.dec) : '');
    xAxis.push({
      ...base, position: 'bottom', min: p.x.min, max: p.x.max, axisTick: tick(xt),
      axisLabel: { show: true, showMinLabel: true, showMaxLabel: true, hideOverlap: false, customValues: labelValues(p.x), formatter: fmtX, margin: 3, fontSize: p.x.size ?? ls, ...lab },
      name: p.xName, nameLocation: 'middle', nameGap: p.xGap ?? 12,
      nameTextStyle: { color: '#111', fontSize: p.xNameSize ?? 10, fontWeight: 'bold', fontFamily: FONT },
    });
    xAxis.push({ ...base, position: 'top', min: p.x.min, max: p.x.max, axisTick: tick(xt), axisLabel: { show: false } });
    yAxis.push({
      ...base, position: 'left', min: p.y.min, max: p.y.max, axisTick: tick(yt),
      axisLabel: { show: true, showMinLabel: true, showMaxLabel: true, hideOverlap: false, customValues: labelValues(p.y), formatter: fmtY, margin: 3, fontSize: p.y.size ?? ls, ...lab },
      name: p.yName, nameLocation: 'middle', nameGap: p.yGap ?? 15,
      nameTextStyle: {
        color: '#111', fontSize: 10, fontWeight: 'bold', fontFamily: FONT, lineHeight: 12,
        rich: { s: { fontSize: 7, fontWeight: 'bold', fontFamily: FONT, color: '#111', verticalAlign: 'top', lineHeight: 8 } },
      },
    });
    yAxis.push({ ...base, position: 'right', min: p.y.min, max: p.y.max, axisTick: tick(yt), axisLabel: { show: false } });
    const ax = { xAxisIndex: gi * 2, yAxisIndex: gi * 2 };
    const sz = inset ? 12 : 2;
    p.lines.forEach((s) => {
      series.push({
        type: 'line', ...ax, data: s.data, showSymbol: false, symbol: 'none', silent: true, z: sz, clip: true,
        lineStyle: { color: s.color, width: s.width ?? 1.7, type: s.dash ?? 'solid', cap: 'round', join: 'round' },
        itemStyle: { color: s.color }, emphasis: { disabled: true },
      });
    });
    (p.dots || []).forEach((d) => {
      series.push({ type: 'scatter', ...ax, data: d.data, symbolSize: 3, silent: true, z: sz + 1, itemStyle: { color: d.color } });
    });
    (p.arrows || []).forEach((a) => {
      series.push({
        type: 'lines', coordinateSystem: 'cartesian2d', ...ax, polyline: a.coords.length > 2, silent: true, z: sz + 2,
        data: [{ coords: a.coords }], symbol: ['none', 'arrow'], symbolSize: a.size ?? 7,
        lineStyle: { color: a.color, width: a.width ?? 1.5, opacity: 1, curveness: 0 }, itemStyle: { color: a.color },
      });
    });
    (p.notes || []).forEach((n) => {
      series.push({
        type: 'scatter', ...ax, data: [n.at], symbolSize: 1, silent: true, z: sz + 3, itemStyle: { color: 'rgba(0,0,0,0)' },
        label: { show: true, position: 'inside', formatter: n.text, color: n.color, fontSize: 8, fontWeight: 'bold', fontFamily: FONT },
      });
    });
  });
  const graphic = letters.map((txt, i) => ({
    type: 'text', x: letterPos[i][0], y: letterPos[i][1] - 6.2, z: 100,
    style: { text: txt, fill: '#000', font: `bold 18px ${FONT}`, fontSize: 18, fontWeight: 'bold', fontFamily: FONT, align: 'left', verticalAlign: 'middle' },
  }));
  return { animation: false, backgroundColor: '#ffffff', grid, xAxis, yAxis, series, graphic };
}

export default function App() {
  const ref = useRef<HTMLDivElement>(null);
  useEffect(() => {
    if (!ref.current) return;
    const chart = echarts.init(ref.current, null, { renderer: 'svg', width: 617, height: 992 });
    chart.setOption(buildOption() as any);
    return () => chart.dispose();
  }, []);
  return <div ref={ref} style={{ position: 'absolute', left: 0, top: 0, width: 617, height: 992, background: '#fff' }} />;
}
